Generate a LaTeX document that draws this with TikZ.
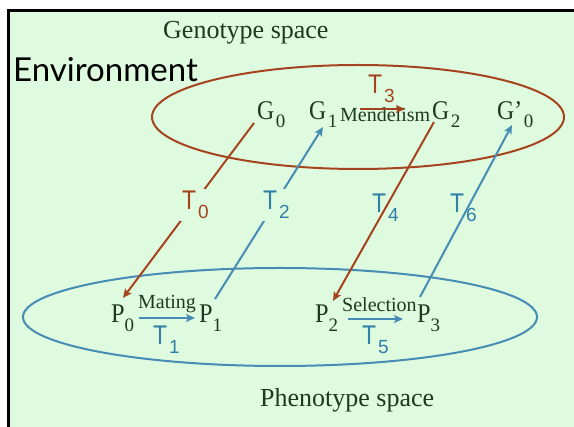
\documentclass[tikz,border=0pt]{standalone}
\usepackage{fontspec}
\setmainfont{Liberation Serif}
\newfontfamily\lsans{Liberation Sans}
\newfontfamily\envfont{Lato}
\usetikzlibrary{arrows.meta}
\definecolor{bg}{HTML}{DFFBDF}
\definecolor{brn}{HTML}{A5431E}
\definecolor{blu}{HTML}{468CB4}
\definecolor{tbl}{HTML}{2F80A6}
\definecolor{dgr}{HTML}{1E3A1E}
\newcommand\Tlab[1]{{\lsans\scalebox{0.85}[1]{\fontsize{27}{27}\selectfont T}\kern2pt\raisebox{-9pt}{\fontsize{19}{19}\selectfont #1}}}
\newcommand\Gsub[2]{{\scalebox{0.88}[1]{\fontsize{27}{27}\selectfont #1}\kern1.5pt\raisebox{-8pt}{\fontsize{19}{19}\selectfont #2}}}
\newcommand\Psub[2]{{\scalebox{0.9}[1]{\fontsize{27}{27}\selectfont #1}\raisebox{-9pt}{\fontsize{19}{19}\selectfont #2}}}
\tikzset{
  lbl/.style={anchor=base west, inner sep=0pt, text=dgr},
  tl/.style={anchor=base west, inner sep=0pt},
  tlfill/.style={anchor=base west, inner sep=2pt, fill=bg},
  conn/.style={line width=2pt, -{Stealth[length=9pt,width=8pt,inset=2pt]}},
  ell/.style={line width=2pt}
}
\begin{document}
\begin{tikzpicture}[x=1pt,y=-1pt]
\useasboundingbox (0,0) rectangle (574,427);
\fill[bg] (8,11) rectangle (574,427);
\draw[line width=3pt] (8,427) -- (8,11) -- (574,11);

% ellipses
\draw[ell, brn] (358,117) ellipse [x radius=206pt, y radius=52pt];
\draw[ell, blu] (280,317) ellipse [x radius=257pt, y radius=49pt];

% titles
\node[lbl, font=\fontsize{26}{26}\selectfont] (gsp) at (163,39) {Genotype space};
\node[lbl, font=\fontsize{26}{26}\selectfont] (psp) at (260,407) {Phenotype space};
\node[anchor=base west, inner sep=0pt, font=\envfont\fontsize{33}{33}\selectfont] (env) at (13,82) {Environment};

% genotype nodes
\node[lbl] (G0) at (257,120) {\Gsub{G}{0}};
\node[lbl] (G1) at (309,120) {\Gsub{G}{1}};
\node[lbl, font=\fontsize{20}{20}\selectfont] (mend) at (340,122) {Mendelism};
\node[lbl] (G2) at (432,120) {\Gsub{G}{2}};
\node[lbl] (G0p) at (497,120) {\Gsub{G’}{0}};

% phenotype nodes
\node[lbl] (P0) at (111,323) {\Psub{P}{0}};
\node[lbl, font=\fontsize{20}{20}\selectfont] (mat) at (138,309) {Mating};
\node[lbl] (P1) at (199,323) {\Psub{P}{1}};
\node[lbl] (P2) at (315,323) {\Psub{P}{2}};
\node[lbl, font=\fontsize{20}{20}\selectfont] (sel) at (342,312) {Selection};
\node[lbl] (P3) at (417,323) {\Psub{P}{3}};

% horizontal arrows
\coordinate (a3s) at (360,109); \coordinate (a3e) at (405,109);
\coordinate (a1s) at (139,318); \coordinate (a1e) at (195,318);
\coordinate (a5s) at (348,319); \coordinate (a5e) at (403,319);
\draw[conn, brn] (a3s) -- (a3e);
\draw[conn, blu] (a1s) -- (a1e);
\draw[conn, blu] (a5s) -- (a5e);
\node[tl, text=brn] (T3) at (368,94) {\Tlab{3}};
\node[tl, text=tbl] (T1) at (153,345) {\Tlab{1}};
\node[tl, text=tbl] (T5) at (362,345) {\Tlab{5}};

% diagonal labels without gap
\node[tl, text=tbl] (T4) at (372,213) {\Tlab{4}};
\node[tl, text=tbl] (T6) at (450,213) {\Tlab{6}};

% diagonal connectors
\coordinate (g0s) at (254,123); \coordinate (p0t) at (123,298);
\coordinate (p1s) at (215,299); \coordinate (g1t) at (323,127);
\coordinate (g2s) at (434,122); \coordinate (p2t) at (333,301);
\coordinate (p3s) at (420,297); \coordinate (g0pt) at (512,125);
\draw[conn, brn] (g0s) -- (p0t);
\draw[conn, blu] (p1s) -- (g1t);
\draw[conn, brn] (g2s) -- (p2t);
\draw[conn, blu] (p3s) -- (g0pt);

% diagonal labels with gap
\node[tlfill, text=brn] (T0) at (180,210) {\Tlab{0}};
\node[tlfill, text=tbl] (T2) at (261,210) {\Tlab{2}};
\end{tikzpicture}
\end{document}
